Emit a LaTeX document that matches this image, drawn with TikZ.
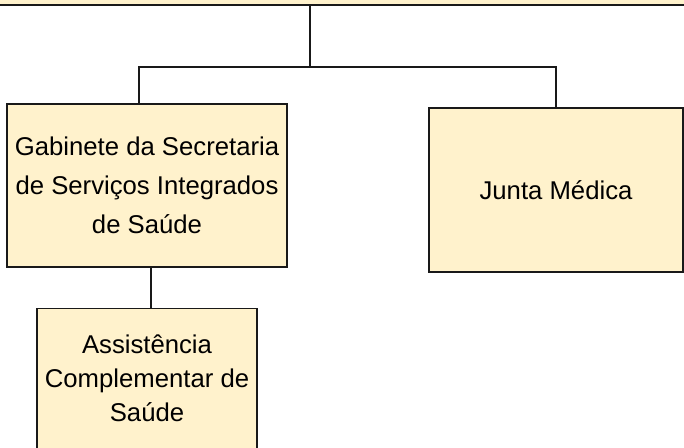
\documentclass[tikz,border=0pt]{standalone}
\usepackage{fontspec}
\setmainfont{Liberation Sans}
\usepackage{xcolor}
\definecolor{boxfill}{HTML}{FFF2CC}
\usetikzlibrary{positioning}

\begin{document}
\begin{tikzpicture}[x=1pt, y=-1pt,
    orgbox/.style={rectangle, draw=black!90, line width=1.4pt, fill=boxfill, align=center, inner sep=0pt},
    boxtext/.style={align=center, inner sep=0pt, font=\fontsize{25.7}{39}\selectfont},
    link/.style={draw=black!90, line width=1.3pt}]
    \useasboundingbox (0,0) rectangle (684,447);
    \clip (0,0) rectangle (684,447);
    % top unit, cut by the page edge
    \node[orgbox, minimum width=720pt, minimum height=50pt] (top) at (342,-20) {};
    \node[orgbox, minimum width=280pt, minimum height=163pt, boxtext] (gabinete) at (147,185.5)
        {Gabinete da Secretaria\\de Serviços Integrados\\de Saúde};
    \node[orgbox, minimum width=254pt, minimum height=164pt, boxtext] (junta) at (556,190) {Junta Médica};
    \node[orgbox, minimum width=220pt, minimum height=200pt, anchor=north] (assist) at (147,308) {};
    \node[boxtext, font=\fontsize{25.7}{34}\selectfont] (assisttxt) at (147,378)
        {Assistência\\Complementar de\\Saúde};
    \coordinate (hub) at (310,67);
    \draw[link] (top.south -| hub) -- (hub);
    \draw[link] ([xshift=-8pt]gabinete.north) |- (hub) -| (junta.north);
    \draw[link] ([xshift=4pt]gabinete.south) -- ([xshift=4pt]assist.north);
\end{tikzpicture}
\end{document}
